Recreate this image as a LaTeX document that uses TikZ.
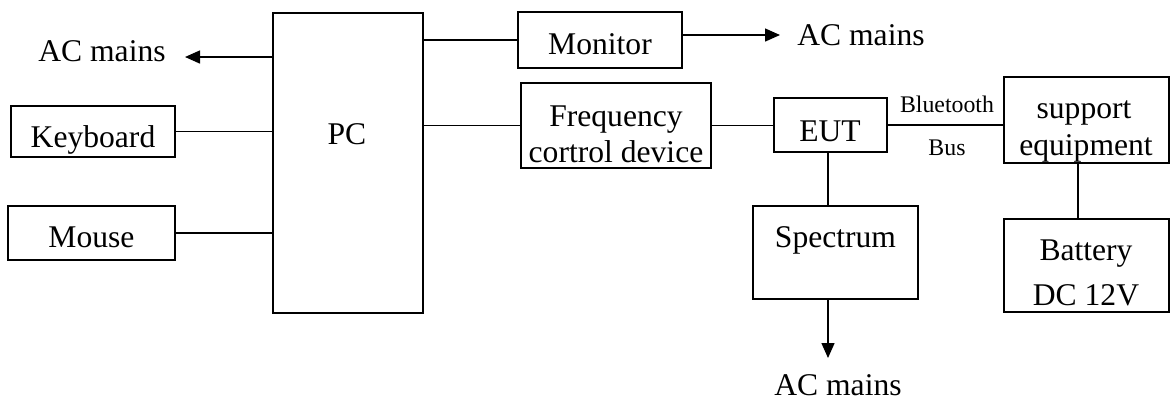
\documentclass[tikz,border=0pt]{standalone}
\usepackage{fontspec}
\setmainfont{Liberation Serif}
\usetikzlibrary{arrows.meta}
\begin{document}
\begin{tikzpicture}[x=0.5pt,y=-0.5pt,
  box/.style={draw,line width=1pt,inner sep=0pt,minimum width=#1},
  lbl/.style={anchor=base,inner sep=0pt,font=\fontsize{15.8}{19}\selectfont},
  small/.style={anchor=base,inner sep=0pt,font=\fontsize{11.9}{14}\selectfont},
  conn/.style={line width=0.75pt},
  arr/.style={line width=0.75pt,-{Triangle[length=7.5pt,width=6.5pt]}}]
\useasboundingbox (0,0) rectangle (1172,404);
% boxes
\node[box=75pt,minimum height=150pt] (pc) at (348,163) {};
\node[box=82pt,minimum height=25.5pt] (kb) at (93,131.5) {};
\node[box=83.5pt,minimum height=27pt] (mouse) at (91.5,233) {};
\node[box=82pt,minimum height=28pt] (mon) at (600,40) {};
\node[box=95pt,minimum height=42.5pt] (freq) at (616,125.5) {};
\node[box=56.5pt,minimum height=27pt] (eut) at (830.5,125) {};
\node[box=82.5pt,minimum height=43pt] (sup) at (1086.5,120) {};
\node[box=82.5pt,minimum height=46.5pt] (spec) at (835.5,252.5) {};
\node[box=82.5pt,minimum height=46.5pt] (bat) at (1086.5,265.5) {};
% texts
\node[lbl] (pct) at (347,144) {PC};
\node[lbl] (kbt) at (93,147) {Keyboard};
\node[lbl] (mouset) at (91.5,247) {Mouse};
\node[lbl] (mont) at (600,54) {Monitor};
\node[lbl] (freqt1) at (616,126) {Frequency};
\node[lbl] (freqt2) at (616,162) {cortrol device};
\node[lbl] (eutt) at (830,141) {EUT};
\node[lbl] (supt1) at (1084,118) {support};
\node[lbl] (supt2) at (1086,155) {equipment};
\node[lbl] (spect) at (835.5,247) {Spectrum};
\node[lbl] (batt1) at (1086,260) {Battery};
\node[lbl] (batt2) at (1086,305) {DC 12V};
\node[lbl] (acl) at (102,61) {AC mains};
\node[lbl] (acr) at (861,45) {AC mains};
\node[lbl] (acb) at (838,395) {AC mains};
\node[small] (bt) at (947,112) {Bluetooth};
\node[small] (bus) at (947,155) {Bus};
% free ends
\coordinate (aclend) at (185,57);
\coordinate (acrend) at (780,35);
\coordinate (acbend) at (828,358);
\coordinate (batx) at (1078,0);
% connectors
\draw[arr] (pc.west |- aclend) -- (aclend);
\draw[conn] (kb.east) -- (kb.east -| pc.west);
\draw[conn] (mouse.east) -- (mouse.east -| pc.west);
\draw[conn] (pc.east |- mon.west) -- (mon.west);
\draw[arr] (mon.east |- acrend) -- (acrend);
\draw[conn] (pc.east |- freq.west) -- (freq.west);
\draw[conn] (freq.east) -- (freq.east -| eut.west);
\draw[conn] (eut.east) -- (eut.east -| sup.west);
\draw[conn] (eut.south -| acbend) -- (spec.north -| acbend);
\draw[arr] (spec.south -| acbend) -- (acbend);
\draw[conn] (sup.south -| batx) -- (bat.north -| batx);
\end{tikzpicture}
\end{document}
